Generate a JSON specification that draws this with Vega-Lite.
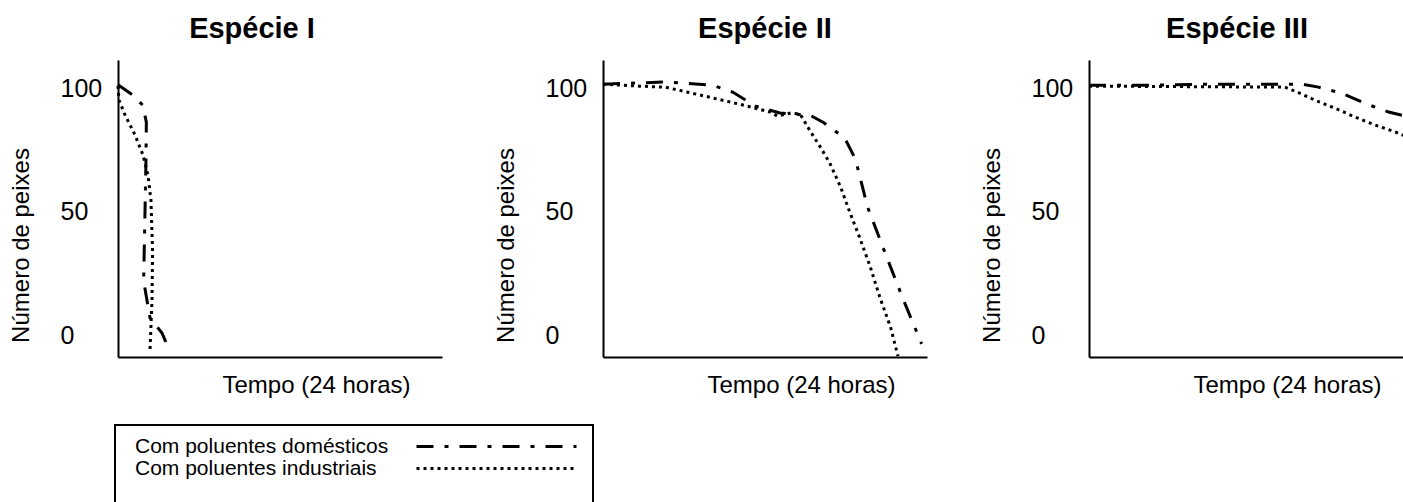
{
  "$schema": "https://vega.github.io/schema/vega-lite/v6.json",
  "padding": {"left": 9, "top": 15, "right": 0, "bottom": 0},
  "autosize": {"type": "pad"},
  "datasets": {
    "peixes": [
      {"p": "I", "s": "Com poluentes domésticos", "i": 0, "h": 0, "n": 101.5},
      {"p": "I", "s": "Com poluentes domésticos", "i": 1, "h": 1.1, "n": 97.3},
      {"p": "I", "s": "Com poluentes domésticos", "i": 2, "h": 1.83, "n": 93.2},
      {"p": "I", "s": "Com poluentes domésticos", "i": 3, "h": 2.1, "n": 86.3},
      {"p": "I", "s": "Com poluentes domésticos", "i": 4, "h": 2.07, "n": 70},
      {"p": "I", "s": "Com poluentes domésticos", "i": 5, "h": 2.0, "n": 50},
      {"p": "I", "s": "Com poluentes domésticos", "i": 6, "h": 1.9, "n": 22},
      {"p": "I", "s": "Com poluentes domésticos", "i": 7, "h": 2.37, "n": 7},
      {"p": "I", "s": "Com poluentes domésticos", "i": 8, "h": 3.26, "n": 0.8},
      {"p": "I", "s": "Com poluentes domésticos", "i": 9, "h": 3.7, "n": -4.9},
      {"p": "I", "s": "Com poluentes industriais", "i": 0, "h": 0, "n": 101},
      {"p": "I", "s": "Com poluentes industriais", "i": 1, "h": 0.07, "n": 95.3},
      {"p": "I", "s": "Com poluentes industriais", "i": 2, "h": 0.52, "n": 89.2},
      {"p": "I", "s": "Com poluentes industriais", "i": 3, "h": 1.26, "n": 81.1},
      {"p": "I", "s": "Com poluentes industriais", "i": 4, "h": 1.85, "n": 73},
      {"p": "I", "s": "Com poluentes industriais", "i": 5, "h": 2.22, "n": 64.9},
      {"p": "I", "s": "Com poluentes industriais", "i": 6, "h": 2.44, "n": 54.7},
      {"p": "I", "s": "Com poluentes industriais", "i": 7, "h": 2.56, "n": 34.5},
      {"p": "I", "s": "Com poluentes industriais", "i": 8, "h": 2.52, "n": 14.2},
      {"p": "I", "s": "Com poluentes industriais", "i": 9, "h": 2.37, "n": -6.1},
      {"p": "II", "s": "Com poluentes domésticos", "i": 0, "h": 0, "n": 101.7},
      {"p": "II", "s": "Com poluentes domésticos", "i": 1, "h": 2.0, "n": 102.1},
      {"p": "II", "s": "Com poluentes domésticos", "i": 2, "h": 4.6, "n": 102.6},
      {"p": "II", "s": "Com poluentes domésticos", "i": 3, "h": 8.1, "n": 101.3},
      {"p": "II", "s": "Com poluentes domésticos", "i": 4, "h": 9.6, "n": 98.5},
      {"p": "II", "s": "Com poluentes domésticos", "i": 5, "h": 11.3, "n": 92.8},
      {"p": "II", "s": "Com poluentes domésticos", "i": 6, "h": 13.1, "n": 90},
      {"p": "II", "s": "Com poluentes domésticos", "i": 7, "h": 15.3, "n": 89.2},
      {"p": "II", "s": "Com poluentes domésticos", "i": 8, "h": 16.3, "n": 86.3},
      {"p": "II", "s": "Com poluentes domésticos", "i": 9, "h": 17.9, "n": 79.9},
      {"p": "II", "s": "Com poluentes domésticos", "i": 10, "h": 18.7, "n": 71.3},
      {"p": "II", "s": "Com poluentes domésticos", "i": 11, "h": 19.6, "n": 51.9},
      {"p": "II", "s": "Com poluentes domésticos", "i": 12, "h": 20.9, "n": 33.2},
      {"p": "II", "s": "Com poluentes domésticos", "i": 13, "h": 22.2, "n": 15},
      {"p": "II", "s": "Com poluentes domésticos", "i": 14, "h": 23.6, "n": -3.6},
      {"p": "II", "s": "Com poluentes industriais", "i": 0, "h": 0, "n": 101.7},
      {"p": "II", "s": "Com poluentes industriais", "i": 1, "h": 2.7, "n": 100.9},
      {"p": "II", "s": "Com poluentes industriais", "i": 2, "h": 4.6, "n": 100.5},
      {"p": "II", "s": "Com poluentes industriais", "i": 3, "h": 7.2, "n": 97.3},
      {"p": "II", "s": "Com poluentes industriais", "i": 4, "h": 10.1, "n": 93.6},
      {"p": "II", "s": "Com poluentes industriais", "i": 5, "h": 12.4, "n": 90.4},
      {"p": "II", "s": "Com poluentes industriais", "i": 6, "h": 12.9, "n": 88.8},
      {"p": "II", "s": "Com poluentes industriais", "i": 7, "h": 13.9, "n": 90},
      {"p": "II", "s": "Com poluentes industriais", "i": 8, "h": 14.6, "n": 89.6},
      {"p": "II", "s": "Com poluentes industriais", "i": 9, "h": 15.3, "n": 83.1},
      {"p": "II", "s": "Com poluentes industriais", "i": 10, "h": 16.1, "n": 76.2},
      {"p": "II", "s": "Com poluentes industriais", "i": 11, "h": 16.8, "n": 69.7},
      {"p": "II", "s": "Com poluentes industriais", "i": 12, "h": 17.6, "n": 60},
      {"p": "II", "s": "Com poluentes industriais", "i": 13, "h": 18.3, "n": 49.5},
      {"p": "II", "s": "Com poluentes industriais", "i": 14, "h": 19.0, "n": 39.7},
      {"p": "II", "s": "Com poluentes industriais", "i": 15, "h": 19.8, "n": 27.6},
      {"p": "II", "s": "Com poluentes industriais", "i": 16, "h": 20.5, "n": 15.4},
      {"p": "II", "s": "Com poluentes industriais", "i": 17, "h": 21.3, "n": 3.2},
      {"p": "II", "s": "Com poluentes industriais", "i": 18, "h": 21.85, "n": -8.5},
      {"p": "III", "s": "Com poluentes domésticos", "i": 0, "h": 0, "n": 101.3},
      {"p": "III", "s": "Com poluentes domésticos", "i": 1, "h": 4.7, "n": 101.3},
      {"p": "III", "s": "Com poluentes domésticos", "i": 2, "h": 8.4, "n": 101.7},
      {"p": "III", "s": "Com poluentes domésticos", "i": 3, "h": 14.5, "n": 101.7},
      {"p": "III", "s": "Com poluentes domésticos", "i": 4, "h": 15.8, "n": 101.7},
      {"p": "III", "s": "Com poluentes domésticos", "i": 5, "h": 17.0, "n": 100.5},
      {"p": "III", "s": "Com poluentes domésticos", "i": 6, "h": 18.7, "n": 98.1},
      {"p": "III", "s": "Com poluentes domésticos", "i": 7, "h": 20.4, "n": 94},
      {"p": "III", "s": "Com poluentes domésticos", "i": 8, "h": 22.2, "n": 90.4},
      {"p": "III", "s": "Com poluentes domésticos", "i": 9, "h": 24, "n": 88},
      {"p": "III", "s": "Com poluentes industriais", "i": 0, "h": 0, "n": 100.9},
      {"p": "III", "s": "Com poluentes industriais", "i": 1, "h": 14.5, "n": 100.5},
      {"p": "III", "s": "Com poluentes industriais", "i": 2, "h": 15.6, "n": 98.1},
      {"p": "III", "s": "Com poluentes industriais", "i": 3, "h": 16.7, "n": 95.3},
      {"p": "III", "s": "Com poluentes industriais", "i": 4, "h": 18.2, "n": 92},
      {"p": "III", "s": "Com poluentes industriais", "i": 5, "h": 19.7, "n": 88.4},
      {"p": "III", "s": "Com poluentes industriais", "i": 6, "h": 21.2, "n": 85.1},
      {"p": "III", "s": "Com poluentes industriais", "i": 7, "h": 22.7, "n": 82.3},
      {"p": "III", "s": "Com poluentes industriais", "i": 8, "h": 24, "n": 79.4}
    ]
  },
  "data": {"name": "peixes"},
  "spacing": 52,
  "resolve": {"scale": {"strokeDash": "shared"}, "legend": {"strokeDash": "shared"}},
  "hconcat": [
    {
      "width": 324, "height": 297,
      "title": {"text": "Espécie I", "dx": -28},
      "transform": [{"filter": "datum.p == 'I'"}],
      "mark": {"type": "line", "color": "black", "strokeWidth": 3},
      "encoding": {
        "x": {"field": "h", "type": "quantitative", "scale": {"domain": [0, 24], "nice": false, "zero": false}, "axis": {"title": "Tempo (24 horas)"}},
        "y": {"field": "n", "type": "quantitative", "scale": {"domain": [-8.9, 111.5], "nice": false, "zero": false}, "axis": {"title": "Número de peixes", "values": [0, 50, 100]}},
        "strokeDash": {"field": "s", "type": "nominal", "scale": {"domain": ["Com poluentes domésticos", "Com poluentes industriais"], "range": [[17, 11, 4, 11], [3, 4]]}, "legend": {"title": " "}},
        "order": {"field": "i", "type": "quantitative"}
      }
    },
    {
      "width": 324, "height": 297,
      "title": {"text": "Espécie II", "dx": 0},
      "transform": [{"filter": "datum.p == 'II'"}],
      "mark": {"type": "line", "color": "black", "strokeWidth": 3},
      "encoding": {
        "x": {"field": "h", "type": "quantitative", "scale": {"domain": [0, 24], "nice": false, "zero": false}, "axis": {"title": "Tempo (24 horas)"}},
        "y": {"field": "n", "type": "quantitative", "scale": {"domain": [-8.9, 111.5], "nice": false, "zero": false}, "axis": {"title": "Número de peixes", "values": [0, 50, 100]}},
        "strokeDash": {"field": "s", "type": "nominal", "scale": {"domain": ["Com poluentes domésticos", "Com poluentes industriais"], "range": [[17, 11, 4, 11], [3, 4]]}, "legend": {"title": " "}},
        "order": {"field": "i", "type": "quantitative"}
      }
    },
    {
      "width": 324, "height": 297,
      "title": {"text": "Espécie III", "dx": -14},
      "transform": [{"filter": "datum.p == 'III'"}],
      "mark": {"type": "line", "color": "black", "strokeWidth": 3},
      "encoding": {
        "x": {"field": "h", "type": "quantitative", "scale": {"domain": [0, 24], "nice": false, "zero": false}, "axis": {"title": "Tempo (24 horas)"}},
        "y": {"field": "n", "type": "quantitative", "scale": {"domain": [-8.9, 111.5], "nice": false, "zero": false}, "axis": {"title": "Número de peixes", "values": [0, 50, 100]}},
        "strokeDash": {"field": "s", "type": "nominal", "scale": {"domain": ["Com poluentes domésticos", "Com poluentes industriais"], "range": [[17, 11, 4, 11], [3, 4]]}, "legend": {"title": " "}},
        "order": {"field": "i", "type": "quantitative"}
      }
    }
  ],
  "config": {
    "font": "Liberation Sans",
    "background": "white",
    "view": {"stroke": null},
    "title": {"fontSize": 29, "font": "Liberation Sans", "fontWeight": "bold", "color": "black", "baseline": "alphabetic", "offset": 16, "frame": "group", "anchor": "middle"},
    "axisY": {"labelAlign": "left", "labelPadding": 58, "ticks": false, "tickSize": 0, "grid": false, "domainColor": "black", "domainWidth": 2, "labelFontSize": 25, "labelColor": "black", "labelFont": "Liberation Sans", "titleFont": "Liberation Sans", "titleFontSize": 24, "titleFontWeight": "normal", "titleColor": "black", "titleX": -85, "titleY": 185, "titleAngle": 270, "titleBaseline": "bottom", "titleAlign": "center"},
    "axisX": {"labels": false, "ticks": false, "tickSize": 0, "grid": false, "domainColor": "black", "domainWidth": 2, "titleFont": "Liberation Sans", "titleFontSize": 24, "titleFontWeight": "normal", "titleColor": "black", "titleX": 198, "titleY": 35, "titleBaseline": "alphabetic", "titleAlign": "center"},
    "legend": {"orient": "none", "legendX": -3, "legendY": 365, "symbolType": "M-8,0H8", "symbolSize": 400, "symbolStrokeWidth": 3, "symbolStrokeColor": "black", "symbolFillColor": "transparent", "labelFontSize": 21, "labelFont": "Liberation Sans", "labelColor": "black", "labelLimit": 400, "labelOffset": -373, "symbolOffset": 360, "strokeColor": "black", "strokeWidth": 2, "padding": 10, "titleOrient": "bottom", "titlePadding": 20, "titleFontSize": 21, "rowPadding": 0}
  }
}
